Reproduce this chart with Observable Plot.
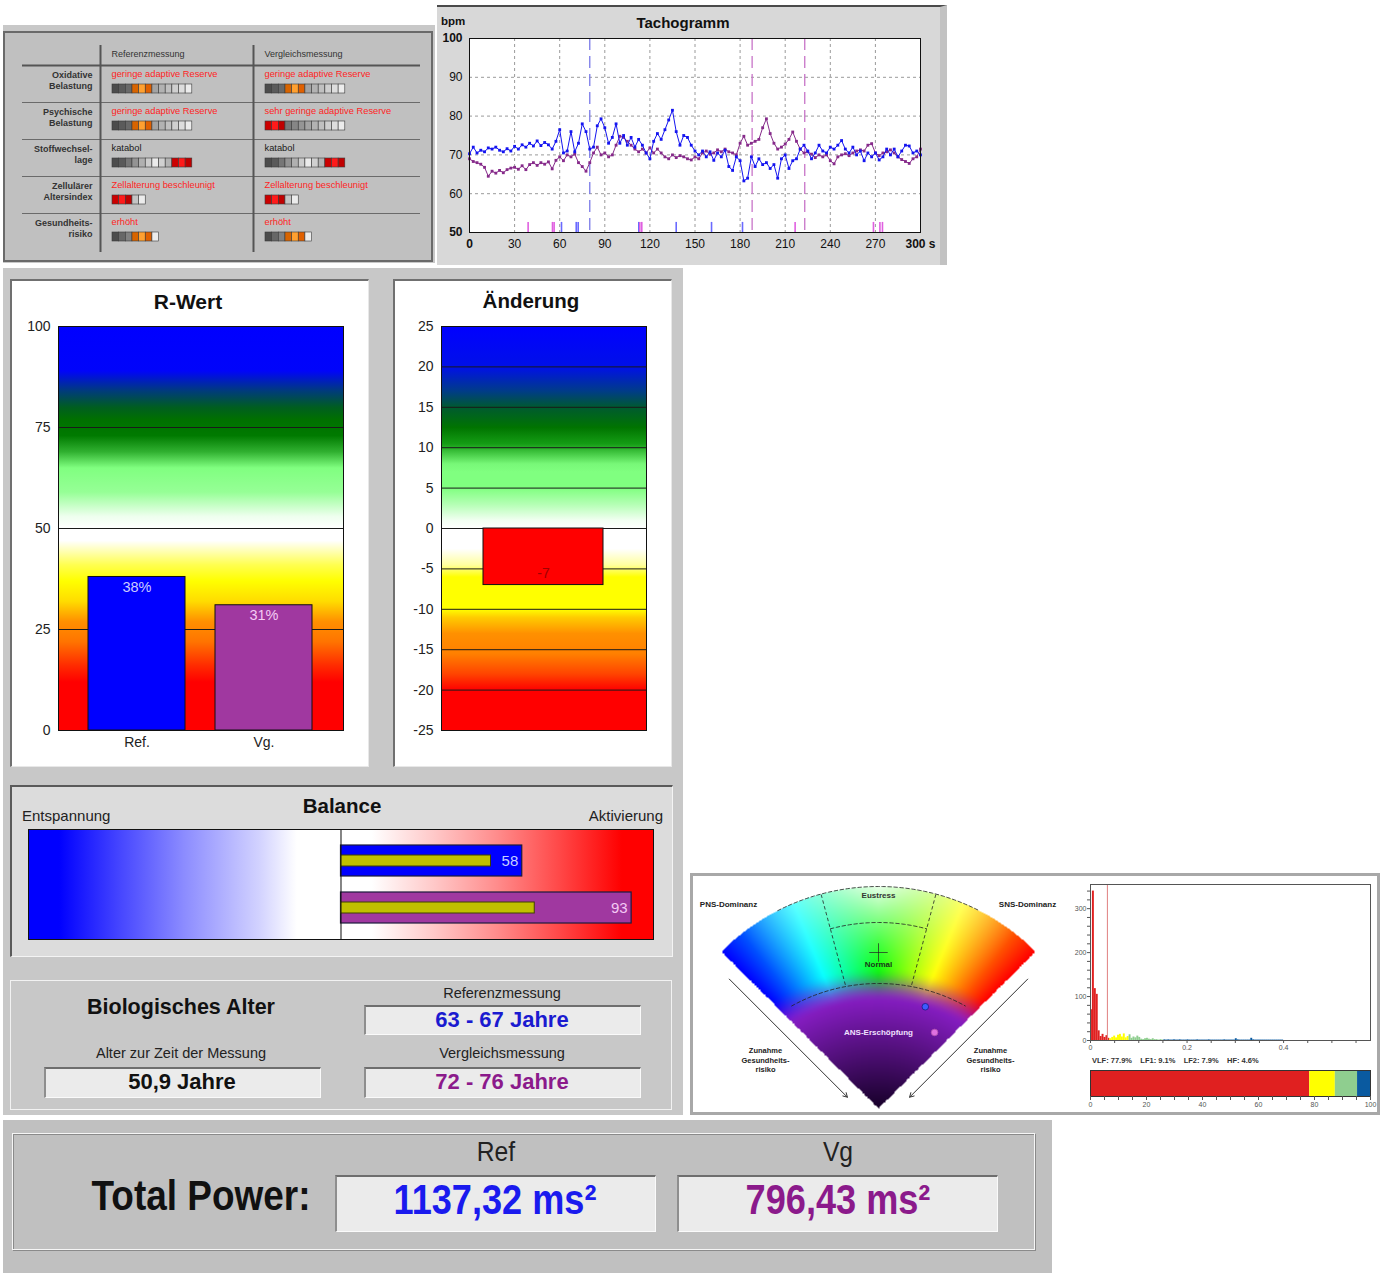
<!DOCTYPE html>
<html><head><meta charset="utf-8">
<script src="https://cdn.jsdelivr.net/npm/d3@7"></script>
<script src="https://cdn.jsdelivr.net/npm/@observablehq/plot@0.6"></script>
<style>
html,body{margin:0;padding:0;background:#fff}
body{position:relative;width:1384px;height:1273px;overflow:hidden;font-family:"Liberation Sans",Arial,Helvetica,sans-serif;color:#111}
.p{position:absolute;box-sizing:border-box}
.t{position:absolute;white-space:nowrap;line-height:1}
svg{display:block}
</style></head><body>
<script>
// ================= DATA =================
const tableRows = ["Oxidative\nBelastung","Psychische\nBelastung","Stoffwechsel-\nlage","Zellulärer\nAltersindex","Gesundheits-\nrisiko"];
const tableRefText = ["geringe adaptive Reserve","geringe adaptive Reserve","katabol","Zellalterung beschleunigt","erhöht"];
const tableVgText = ["geringe adaptive Reserve","sehr geringe adaptive Reserve","katabol","Zellalterung beschleunigt","erhöht"];
const tableAlarm = [true,true,false,true,true];
const segCounts = [12,12,12,5,7];
const segTwoSided = [false,false,true,false,false];
const refLevel = [4,4,10,1,4];
const vgLevel = [4,1,10,1,4];
const refSeverity = ["mid","mid","high","high","mid"];
const vgSeverity = ["mid","high","high","high","mid"];

const tachoStep = 2.5;
const tachoRef = [70.3,72,70.5,71.2,70.8,71.8,71.5,72,71.2,70.8,71.6,71,72.2,71.5,72.6,72,73,72.3,73.6,72.4,73.2,72.6,71.5,73.5,76.5,70.5,71,76,70.8,73,78,76,71.5,72,77.5,79.3,77,73,74.5,78,73,75,72.5,74.5,72,74,72.5,70.5,69,73.5,75.5,74,76.5,79,81.5,76,72.5,75,74.5,72.5,71,70,71,69.5,70.8,68.6,70.5,69.5,71.2,67,66,69.5,68.5,63.3,64,69.5,67,69,67.5,68,66.5,67.5,64,69,70,66.5,68.5,69,71.5,72.5,71,69,70.5,72.5,71,70.5,72,71.5,72.5,73.7,71.5,70.5,72,70,71,68.5,70.5,69.5,70.5,68.7,69.5,71.5,70,71.5,69.5,71,72.5,72.3,70.5,71,70];
const tachoVg = [69,68.3,68,67.6,66.8,64.5,65.8,65.3,66,65.4,66.2,66.6,66.8,66.3,67.2,66.2,67.5,68,67.3,68,67.6,68.2,66.4,68.6,69.5,68.5,70,69.5,70.2,68,67,65.8,68,70.5,72,70,70.5,69.5,70,72.5,74.8,74.5,73.5,72.5,71.5,70.8,71.5,70.5,71.8,70.5,71.5,70.5,69.5,69,70,69.3,69.8,69.5,69,68.7,69.5,69,70.5,71,70.2,70.5,71.3,70.8,71.5,70.8,70.5,70,73,74.8,72.5,73,73.5,74,77,79.3,75.5,73,71.5,72,72.8,74,75.9,73.5,71.5,70.5,70.8,70.2,69.3,70,69.5,70,68.5,67.7,69.5,70,70.3,69.8,70.5,71,71.3,71,72.5,72.9,70.5,69.8,70.5,70.8,71.3,70.5,69.5,68.8,68.3,67.8,69,69.5,71.5];
const tachoRefEvents = [80];
const tachoVgEvents = [188,223];
const tachoRefMarks = [61.2,71,72.3,112.6,137.5,161,181.6];
const tachoVgMarks = [39,55.2,56.3,113.3,114.6,216.6,268.7,273,274.7];
const tachoXTicks = [30,60,90,120,150,180,210,240,270];
const tachoYTicks = [60,70,80,90];

const rCategories = ["Ref.","Vg."];
const rValues = [38,31];
const changeValue = -7;

const balanceCategories = ["Ref","Vg"];
const balanceValues = [58,93];
const balancePrev = [48,62];

const ansAngle = [24.7,36.4];   // degrees from the fan axis
const ansRadius = [112,94.5];

const specStep = 0.004;
const specPower = [70,340,118,105,22,9,14,7,11,5,4,7,10,6,12,14,8,15,6,9,13,5,8,6,10,7,3,2,4,5,3,2,4,2,2,1,2,1,1.5,1,1.5,1,1,1.5,1,1,1.5,1,1,1,1.5,1,1,1,1,1.5,1,1,1,1,1,1.5,1,1,1,1,1,1,1,1.5,1,1,1,1,1,4,1.5,1,1,1,1,1,1,5,1.5,1,1,1,1,1,1,1,1,1,1,1,1,1,1,1];
const bandNames = ["VLF","LF1","LF2","HF"];
const bandLimits = [0.04,0.08,0.15,0.4];
const bandPct = [77.9,9.1,7.9,4.6];

const ageAtMeasurement = "50,9 Jahre";
const bioAgeRef = "63 - 67 Jahre";
const bioAgeVg = "72 - 76 Jahre";
const totalPower = [1137.32,796.43];

// ================= STYLE / HELPERS =================
const FONT = '"Liberation Sans", Arial, Helvetica, sans-serif';
const REF_BLUE = "#0000ff", VG_PURPLE = "#a038a0";
const TACHO_REF = "#1414f0", TACHO_VG = "#862a8a";
const bandColors = ["#e02020","#ffff00","#8fce8f","#0a5aa0"];
const ns = "http://www.w3.org/2000/svg";

function box(x,y,w,h,css=""){const d=document.createElement("div");d.className="p";d.style.cssText+=`left:${x}px;top:${y}px;width:${w}px;height:${h}px;${css}`;document.body.appendChild(d);return d;}
function txt(s,x,y,css="",anchor="middle",sx=1){const d=document.createElement("div");d.className="t";d.textContent=s;const tx=anchor==="middle"?"-50%":anchor==="end"?"-100%":"0";const org=anchor==="middle"?"center":anchor==="end"?"right":"left";d.style.cssText+=`left:${x}px;top:${y}px;transform:translate(${tx},-50%) scaleX(${sx});transform-origin:${org} center;${css}`;document.body.appendChild(d);return d;}
function place(node,x,y){node.style.position="absolute";node.style.left=x+"px";node.style.top=y+"px";document.body.appendChild(node);return node;}
function grad(svg,id,stops,horizontal=false){let defs=svg.querySelector("defs");if(!defs){defs=document.createElementNS(ns,"defs");svg.insertBefore(defs,svg.firstChild);}const g=document.createElementNS(ns,"linearGradient");g.setAttribute("id",id);g.setAttribute("x1","0");g.setAttribute("y1","0");g.setAttribute("x2",horizontal?"1":"0");g.setAttribute("y2",horizontal?"0":"1");for(const [o,c] of stops){const s=document.createElementNS(ns,"stop");s.setAttribute("offset",o);s.setAttribute("stop-color",c);g.appendChild(s);}defs.appendChild(g);}
function field(x,y,w,h){return box(x,y,w,h,"background:#ebebeb;border-top:2px solid #6e6e6e;border-left:2px solid #8e8e8e;border-right:1px solid #fafafa;border-bottom:1px solid #fafafa");}
const hyphen = d => String(d);

// ================= PANEL BACKGROUNDS =================
box(3,25,432,238,"background:#c8c8c8");
box(3,31,430,231,"background:#c0c0c0;border:2px solid #6a6a6a");
box(437,5,510,260,"background:#d8d8d8;border-top:2px solid #4a4a4a;border-right:7px solid #c2c2c2");
box(3,268,680,847,"background:#c8c8c8");
box(10,279,359,488,"background:#fff;border-top:2px solid #707070;border-left:2px solid #707070;border-right:1px solid #e8e8e8;border-bottom:1px solid #e8e8e8");
box(393,279,279,488,"background:#fff;border-top:2px solid #707070;border-left:2px solid #707070;border-right:1px solid #e8e8e8;border-bottom:1px solid #e8e8e8");
box(10,785,663,172,"background:#dcdcdc;border-top:2px solid #5a5a5a;border-left:2px solid #5a5a5a;border-right:1px solid #f4f4f4;border-bottom:1px solid #f4f4f4");
box(10,980,662,130,"background:#c8c8c8;border:1px solid #f2f2f2");
box(690,873,690,242,"background:#fff;border:3px solid #a8a8a8");
box(3,1120,1049,153,"background:#c0c0c0");
box(12,1133,1023,117,"border:1px solid #f6f6f6;box-shadow:inset 1px 1px 0 #8a8a8a, 1px 1px 0 #8a8a8a");

// ================= TABLE =================
{
  const segW = 6.65, segH = 9;
  const segs = [];
  tableRows.forEach((_, i) => {
    const top = 40 + 37 * i;
    [[refLevel[i], refSeverity[i], 109], [vgLevel[i], vgSeverity[i], 262]].forEach(([lvl, sev, x0]) => {
      const n = segCounts[i];
      for (let k = 0; k < n; k++) {
        let t = k / (n - 1);
        if (segTwoSided[i]) t = 1 - Math.abs(2 * t - 1.1);
        let fill = d3.interpolateRgb("#4c4c4c", "#ececec")(Math.max(0, Math.min(1, t)));
        const j = k - (lvl - 1);
        if (j >= 0 && j < 3) fill = (sev === "high" ? ["#cc0000", "#ff1a1a", "#c00000"] : ["#d86400", "#ffa030", "#e06000"])[j];
        segs.push({x1: x0 + k * segW, x2: x0 + (k + 1) * segW, y1: top + 19, y2: top + 19 + segH, fill});
      }
    });
  });
  const status = [];
  tableRows.forEach((_, i) => {
    const y = 40 + 37 * i + 9;
    const fill = tableAlarm[i] ? "#ff2424" : "#1a1a1a";
    status.push({x: 108, y, t: tableRefText[i], fill});
    status.push({x: 261, y, t: tableVgText[i], fill});
  });
  const tp = Plot.plot({
    width: 432, height: 238, margin: 0,
    x: {domain: [0, 432], range: [0, 432], axis: null, label: null},
    y: {domain: [0, 238], range: [0, 238], axis: null, label: null},
    color: {type: "identity"},
    style: {background: "transparent", fontFamily: FONT},
    marks: [
      Plot.ruleY([77, 114, 151, 188], {x1: 19, x2: 417, stroke: "#6a6a6a", strokeWidth: 1}),
      Plot.ruleY([40], {x1: 19, x2: 417, stroke: "#555", strokeWidth: 2}),
      Plot.ruleX([97, 250], {y1: 20, y2: 227, stroke: "#555", strokeWidth: 2}),
      Plot.rect(segs, {x1: "x1", x2: "x2", y1: "y1", y2: "y2", fill: "fill", stroke: "#3a3a3a", strokeWidth: 0.6}),
      Plot.text(["Referenzmessung", "Vergleichsmessung"], {x: (d, i) => i ? 261 : 108, y: 29, text: d => d, textAnchor: "start", fontSize: 9, fill: "#333"}),
      Plot.text(tableRows, {x: 89, y: (d, i) => 40 + 37 * i + 4.3, text: d => d, textAnchor: "end", lineAnchor: "top", lineHeight: 1.25, fontSize: 9, fontWeight: "bold", fill: "#333"}),
      Plot.text(status, {x: "x", y: "y", text: "t", fill: "fill", textAnchor: "start", fontSize: 9.3})
    ]
  });
  place(tp, 3, 25);
}

// ================= TACHOGRAMM =================
{
  const refRows = tachoRef.map((v, i) => ({t: i * tachoStep, v}));
  const vgRows = tachoVg.map((v, i) => ({t: i * tachoStep, v}));
  const tc = Plot.plot({
    width: 510, height: 260, marginLeft: 32, marginRight: 27, marginTop: 33, marginBottom: 33,
    x: {domain: [0, 300], label: null}, y: {domain: [50, 100], label: null},
    style: {background: "transparent", fontFamily: FONT, fontSize: "12px", color: "#111"},
    marks: [
      Plot.frame({fill: "white"}),
      Plot.gridX(tachoXTicks, {stroke: "#9a9a9a", strokeOpacity: 1, strokeDasharray: "3,3"}),
      Plot.gridY(tachoYTicks, {stroke: "#9a9a9a", strokeOpacity: 1, strokeDasharray: "3,3"}),
      Plot.ruleX(tachoRefEvents, {stroke: "#7a7ae8", strokeDasharray: "12,6", strokeWidth: 1.3}),
      Plot.ruleX(tachoVgEvents, {stroke: "#c874c8", strokeDasharray: "12,6", strokeWidth: 1.3}),
      Plot.ruleX(tachoRefMarks, {y1: 50, y2: 52.6, stroke: "#6a6aff", strokeWidth: 1.6}),
      Plot.ruleX(tachoVgMarks, {y1: 50, y2: 52.6, stroke: "#e060e0", strokeWidth: 1.6}),
      Plot.line(vgRows, {x: "t", y: "v", stroke: TACHO_VG, strokeWidth: 1}),
      Plot.dot(vgRows, {x: "t", y: "v", symbol: "square", r: 1.6, fill: TACHO_VG}),
      Plot.line(refRows, {x: "t", y: "v", stroke: TACHO_REF, strokeWidth: 1}),
      Plot.dot(refRows, {x: "t", y: "v", symbol: "square", r: 1.6, fill: TACHO_REF}),
      Plot.frame({stroke: "#111"}),
      Plot.axisY(tachoYTicks, {tickSize: 0, tickPadding: 7, fontSize: 12}),
      Plot.axisY([50, 100], {tickSize: 0, tickPadding: 7, fontSize: 12, fontWeight: "bold"}),
      Plot.axisX(tachoXTicks, {tickSize: 0, tickPadding: 7, fontSize: 12}),
      Plot.axisX([0, 300], {tickSize: 0, tickPadding: 7, fontSize: 12, fontWeight: "bold", tickFormat: d => d === 300 ? "300 s" : d})
    ]
  });
  place(tc, 437, 5);
  txt("Tachogramm", 683, 22, "font-weight:bold;font-size:15px");
  txt("bpm", 441, 22, "font-weight:bold;font-size:11.5px", "start");
}

// ================= R-WERT =================
{
  const rData = rCategories.map((c, i) => ({c, v: rValues[i], fill: i ? VG_PURPLE : REF_BLUE, lab: i ? "#f4ccf4" : "#ccccff"}));
  const rp = Plot.plot({
    width: 359, height: 488, marginLeft: 48, marginRight: 26, marginTop: 47, marginBottom: 37,
    x: {domain: rCategories, paddingInner: 0.236, paddingOuter: 0.24, label: null},
    y: {domain: [0, 100], label: null},
    color: {type: "identity"},
    style: {background: "transparent", fontFamily: FONT, fontSize: "14px", color: "#222"},
    marks: [
      Plot.frame({fill: "url(#gradR)"}),
      Plot.ruleY([25, 50, 75], {stroke: "#1a1a1a"}),
      Plot.barY(rData, {x: "c", y: "v", fill: "fill", stroke: "#101010"}),
      Plot.text(rData, {x: "c", y: "v", text: d => d.v + "%", dy: 10, fill: "lab", fontSize: 14.5}),
      Plot.frame({stroke: "#111"}),
      Plot.axisY([0, 25, 50, 75, 100], {tickSize: 0, tickPadding: 8, fontSize: 14, tickFormat: hyphen}),
      Plot.axisX({tickSize: 0, tickPadding: 7, fontSize: 14})
    ]
  });
  grad(rp, "gradR", [[0,"#0000ff"],[0.11,"#0004fa"],[0.16,"#003c7a"],[0.2,"#005e20"],[0.23,"#007000"],[0.27,"#007a00"],[0.31,"#30b030"],[0.35,"#80ff80"],[0.41,"#96ff96"],[0.47,"#eeffee"],[0.5,"#ffffff"],[0.53,"#ffffff"],[0.59,"#ffff50"],[0.63,"#ffff00"],[0.68,"#ffdc00"],[0.73,"#ff9000"],[0.78,"#ff7400"],[0.84,"#ff2a00"],[0.88,"#ff0000"],[1,"#ff0000"]]);
  place(rp, 10, 279);
  txt("R-Wert", 188, 301, "font-weight:bold;font-size:21px");
}

// ================= ÄNDERUNG =================
{
  const cp = Plot.plot({
    width: 279, height: 488, marginLeft: 48, marginRight: 26, marginTop: 47, marginBottom: 37,
    x: {domain: ["Änderung"], padding: 0.258, axis: null, label: null},
    y: {domain: [-25, 25], label: null},
    style: {background: "transparent", fontFamily: FONT, fontSize: "14px", color: "#222"},
    marks: [
      Plot.frame({fill: "url(#gradA)"}),
      Plot.ruleY([-20, -15, -10, -5, 0, 5, 10, 15, 20], {stroke: "#1a1a1a"}),
      Plot.barY([changeValue], {x: () => "Änderung", y: d => d, fill: "#ff0000", stroke: "#111"}),
      Plot.text([changeValue], {x: () => "Änderung", y: d => d, text: hyphen, dy: -12, fill: "#a00000", fontSize: 14}),
      Plot.frame({stroke: "#111"}),
      Plot.axisY(d3.range(-25, 26, 5), {tickSize: 0, tickPadding: 8, fontSize: 14, tickFormat: hyphen})
    ]
  });
  grad(cp, "gradA", [[0,"#0000ff"],[0.1,"#0010e8"],[0.16,"#003c88"],[0.2,"#005a30"],[0.25,"#007400"],[0.29,"#149c14"],[0.34,"#78f878"],[0.36,"#80ff80"],[0.4,"#80ff80"],[0.44,"#b4ffb4"],[0.48,"#f2fff2"],[0.5,"#ffffff"],[0.55,"#ffffff"],[0.59,"#ffffa0"],[0.62,"#ffff00"],[0.7,"#ffff00"],[0.72,"#ffcc00"],[0.76,"#ff9000"],[0.81,"#ff8000"],[0.86,"#ff4400"],[0.9,"#ff0000"],[1,"#ff0000"]]);
  place(cp, 393, 279);
  txt("Änderung", 531, 301, "font-weight:bold;font-size:20.5px");
}

// ================= BALANCE =================
{
  const bData = balanceCategories.map((c, i) => ({c, v: balanceValues[i], p: balancePrev[i], fill: i ? VG_PURPLE : REF_BLUE, lab: i ? "#f4c8f4" : "#c8d0ff"}));
  const bp = Plot.plot({
    width: 663, height: 172, marginLeft: 18, marginRight: 20, marginTop: 44, marginBottom: 18,
    x: {domain: [-100, 100], axis: null, label: null},
    y: {domain: balanceCategories, padding: 0.34, axis: null, label: null},
    color: {type: "identity"},
    style: {background: "transparent", fontFamily: FONT, fontSize: "15px"},
    marks: [
      Plot.rect([0], {x1: -100, x2: 0, fill: "url(#gradBL)"}),
      Plot.rect([0], {x1: 0, x2: 100, fill: "url(#gradBR)"}),
      Plot.barX(bData, {y: "c", x: "v", fill: "fill", stroke: "#1c1c3c", strokeWidth: 1.2}),
      Plot.barX(bData, {y: "c", x: "p", fill: "#c0c000", stroke: "#404000", insetTop: 10, insetBottom: 10}),
      Plot.text(bData, {y: "c", x: "v", text: d => String(d.v), dx: -4, textAnchor: "end", fill: "lab", fontSize: 15}),
      Plot.ruleX([0], {stroke: "#111"}),
      Plot.frame({stroke: "#111"})
    ]
  });
  grad(bp, "gradBL", [[0,"#0000ff"],[0.1,"#0000ff"],[0.3,"#4848ff"],[0.5,"#8c8cff"],[0.74,"#d2d2ff"],[0.86,"#ffffff"],[1,"#ffffff"]], true);
  grad(bp, "gradBR", [[0,"#ffffff"],[0.1,"#ffffff"],[0.3,"#ffc8c8"],[0.5,"#ff8c8c"],[0.7,"#ff4848"],[0.9,"#ff0000"],[1,"#ff0000"]], true);
  place(bp, 10, 785);
  txt("Balance", 342, 806, "font-weight:bold;font-size:20.5px");
  txt("Entspannung", 22, 815, "font-size:15px;color:#222", "start");
  txt("Aktivierung", 663, 815, "font-size:15px;color:#222", "end");
}

// ================= BIOLOGISCHES ALTER =================
field(44,1067,277,31); field(364,1005,277,30); field(364,1067,277,31);
txt("Biologisches Alter", 181, 1008, "font-weight:bold;font-size:21.5px;color:#111");
txt("Alter zur Zeit der Messung", 181, 1053, "font-size:14.5px;color:#222");
txt(ageAtMeasurement, 182, 1082, "font-weight:bold;font-size:22px;color:#111");
txt("Referenzmessung", 502, 993, "font-size:14.5px;color:#222");
txt(bioAgeRef, 502, 1020, "font-weight:bold;font-size:22px;color:#1a1ad0");
txt("Vergleichsmessung", 502, 1053, "font-size:14.5px;color:#222");
txt(bioAgeVg, 502, 1082, "font-weight:bold;font-size:22px;color:#8b1a8b");

// ================= ANS FAN =================
{
  const fanPurple = d3.interpolateRgb("#160028", "#8a1ec8");
  function fanColor(x, y) {
    if (y < 0) return null;
    const r = Math.hypot(x, y);
    const th = Math.atan2(x, y) * 180 / Math.PI;
    if (r > 222 || Math.abs(th) > 45) return null;
    const h = Math.max(0, Math.min(240, 120 - th * 8 / 3));
    let c = d3.rgb(d3.hsl(h, 1, 0.5));
    let w = Math.max(0, (r - 125) / 97);
    w = Math.pow(w, 1.4) * Math.max(0, 1 - Math.abs(th) / 38) * 0.92;
    const base = d3.interpolateRgb(c, "#ffffff")(w);
    const d = Math.hypot(x, y + 54);
    let t = Math.min(1, Math.max(0, (196 - d) / 36));
    t = t * t * (3 - 2 * t);
    const p = fanPurple(Math.min(1, Math.max(0, (d - 54) / 115)));
    return d3.interpolateRgb(base, p)(t);
  }
  const rad = a => a * Math.PI / 180;
  const arc = (cx, cy, R, a0, a1) => d3.range(a0, a1 + 0.001, 1).map(a => ({x: cx + R * Math.sin(rad(a)), y: cy + R * Math.cos(rad(a))}));
  const radials = [-15, 15].map(a => ({x1: 128 * Math.sin(rad(a)), y1: 128 * Math.cos(rad(a)), x2: 222 * Math.sin(rad(a)), y2: 222 * Math.cos(rad(a))}));
  const arrows = [-1, 1].map(s => {
    const a = rad(45 * s), ux = Math.sin(a), uy = Math.cos(a);
    const nx = s * Math.cos(a) * 14, ny = -Math.abs(Math.sin(a)) * 14;
    return {x1: 197 * ux + nx, y1: 197 * uy + ny, x2: 30 * ux + nx, y2: 30 * uy + ny};
  });
  const ansPts = ansAngle.map((a, i) => ({x: ansRadius[i] * Math.sin(rad(a)), y: ansRadius[i] * Math.cos(rad(a)), fill: i ? "#e070e0" : "#3c5cff", stroke: i ? "#b050b0" : "#1a1a80"}));
  const dash = {stroke: "#222", strokeDasharray: "3.5,2.5", strokeWidth: 0.8};
  const fp = Plot.plot({
    width: 390, height: 235, margin: 0,
    x: {domain: [-185, 205], axis: null, label: null},
    y: {domain: [-4, 231], axis: null, label: null},
    color: {type: "identity"},
    style: {background: "transparent", fontFamily: FONT},
    marks: [
      Plot.raster({x1: -185, x2: 205, y1: -4, y2: 231, pixelSize: 1, fill: fanColor}),
      Plot.line(arc(0, 0, 222, -27, 27), {x: "x", y: "y", ...dash}),
      Plot.line(arc(0, 0, 186, -15, 15), {x: "x", y: "y", ...dash}),
      Plot.line(arc(0, -54, 179, -29, 29), {x: "x", y: "y", ...dash}),
      Plot.link(radials, {x1: "x1", y1: "y1", x2: "x2", y2: "y2", ...dash}),
      Plot.arrow(arrows, {x1: "x1", y1: "y1", x2: "x2", y2: "y2", stroke: "#333", strokeWidth: 1, headLength: 7}),
      Plot.dot([0], {x: 0, y: 156, symbol: "plus", r: 6, stroke: "#222", strokeWidth: 0.7}),
      Plot.dot(ansPts, {x: "x", y: "y", r: 3.3, fill: "fill", stroke: "stroke", strokeWidth: 0.8}),
      Plot.text(["PNS-Dominanz"], {x: -150, y: 204, text: d => d, fontSize: 8, fontWeight: "bold", fill: "#222"}),
      Plot.text(["SNS-Dominanz"], {x: 149, y: 204, text: d => d, fontSize: 8, fontWeight: "bold", fill: "#222"}),
      Plot.text(["Eustress"], {x: 0, y: 213, text: d => d, fontSize: 8, fontWeight: "bold", fill: "#333"}),
      Plot.text(["Normal"], {x: 0, y: 144, text: d => d, fontSize: 8, fontWeight: "bold", fill: "#1a3a1a"}),
      Plot.text(["ANS-Erschöpfung"], {x: 0, y: 76, text: d => d, fontSize: 8, fontWeight: "bold", fill: "#f0e0ff"}),
      Plot.text(["Zunahme\nGesundheits-\nrisiko"], {x: -113, y: 49, text: d => d, fontSize: 7.5, fontWeight: "bold", lineHeight: 1.3, fill: "#222"}),
      Plot.text(["Zunahme\nGesundheits-\nrisiko"], {x: 112, y: 49, text: d => d, fontSize: 7.5, fontWeight: "bold", lineHeight: 1.3, fill: "#222"})
    ]
  });
  place(fp, 693, 877);
}

// ================= SPECTRUM =================
{
  const bandOf = f => bandLimits.findIndex(l => f < l - 1e-9);
  const specData = specPower.map((p, i) => {
    const f0 = i * specStep, b = bandOf(f0);
    return {f0, f1: f0 + specStep, p, fill: bandColors[b < 0 ? 3 : b]};
  });
  const sp = Plot.plot({
    width: 317, height: 175, marginLeft: 30, marginRight: 7, marginTop: 7, marginBottom: 12,
    x: {domain: [0, 0.58], label: null}, y: {domain: [0, 355], label: null},
    color: {type: "identity"},
    style: {background: "transparent", fontFamily: FONT, fontSize: "7px", color: "#555"},
    marks: [
      Plot.rectY(specData, {x1: "f0", x2: "f1", y: "p", fill: "fill"}),
      Plot.ruleX([0.035], {stroke: "#e08080"}),
      Plot.frame({stroke: "#555"}),
      Plot.axisY(d3.range(0, 355, 20), {tickSize: 3, tickPadding: 1, fontSize: 7, tickFormat: d => d % 100 === 0 ? String(d) : ""}),
      Plot.axisX(d3.range(0, 0.58, 0.05), {tickSize: 3, tickPadding: 2, fontSize: 7, tickFormat: d => {const r = Math.round(d * 100); return r % 20 === 0 ? String(r / 100) : "";}})
    ]
  });
  place(sp, 1060, 877);
  const pctData = bandNames.map((n, i) => ({n, pct: bandPct[i], fill: bandColors[i]}));
  const bp = Plot.plot({
    width: 317, height: 52, marginLeft: 30, marginRight: 7, marginTop: 8, marginBottom: 18,
    x: {domain: [0, 1], label: null},
    color: {type: "identity"},
    style: {background: "transparent", fontFamily: FONT, fontSize: "7px", color: "#555"},
    marks: [
      Plot.barX(pctData, Plot.stackX({x: "pct", fill: "fill", offset: "normalize"})),
      Plot.frame({stroke: "#333"}),
      Plot.axisX(d3.range(0, 1.0001, 0.05), {tickSize: 4, tickPadding: 2, fontSize: 7, tickFormat: d => {const r = Math.round(d * 100); return r % 20 === 0 ? String(r) : "";}})
    ]
  });
  place(bp, 1060, 1062);
  txt(bandNames.map((n, i) => `${n}: ${bandPct[i].toFixed(1)}%`).join("    "), 1092, 1061, "font-weight:bold;font-size:7.5px;color:#333;white-space:pre", "start");
}

// ================= TOTAL POWER =================
field(335,1175,321,57); field(677,1175,321,57);
const fmt = v => v.toFixed(2).replace(".", ",") + " ms²";
txt("Total Power:", 201, 1196, "font-weight:bold;font-size:42px;color:#111", "middle", 0.88);
txt("Ref", 496, 1152, "font-size:28px;color:#222", "middle", 0.88);
txt("Vg", 838, 1152, "font-size:28px;color:#222", "middle", 0.88);
txt(fmt(totalPower[0]), 495, 1200, "font-weight:bold;font-size:42px;color:#1a1aee", "middle", 0.86);
txt(fmt(totalPower[1]), 838, 1200, "font-weight:bold;font-size:42px;color:#8b1a8b", "middle", 0.86);
</script>
</body></html>
